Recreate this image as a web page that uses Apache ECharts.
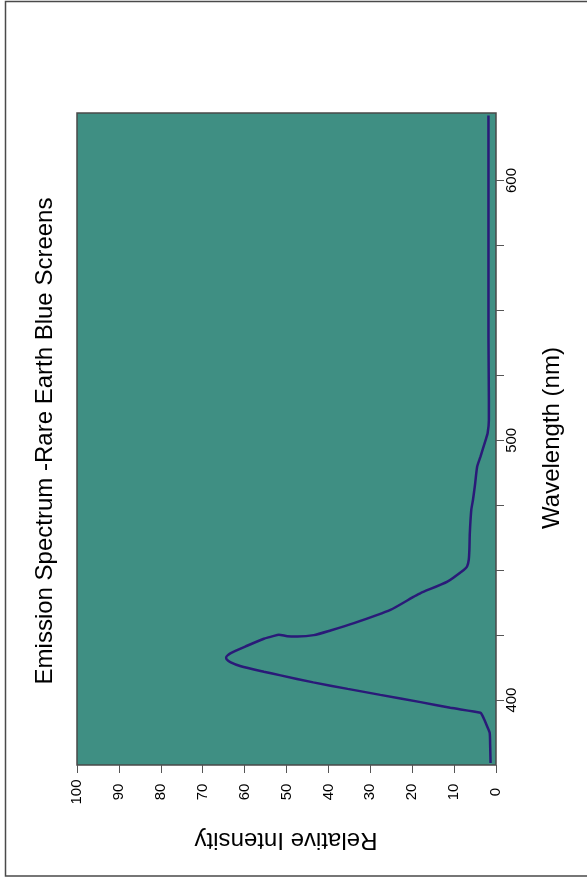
<!DOCTYPE html>
<html>
<head>
<meta charset="utf-8">
<script src="https://cdn.jsdelivr.net/npm/echarts@6/dist/echarts.min.js"></script>
<style>
html,body{margin:0;padding:0;background:#fff;}
#chart{width:587px;height:878px;}
</style>
</head>
<body>
<div id="chart"></div>
<script>
const wavelength = [375.8, 383, 387.3, 389.8, 392.5, 394.2, 395.1, 397.0, 399.2, 402.0, 404.3, 406.8, 409.5, 410.9, 413.0, 414.5, 415.7, 416.5, 418.0, 420.9, 423.6, 424.7, 425.1, 424.6, 424.5, 425.0, 426.8, 429.6, 434.7, 439.8, 441.2, 445.6, 450.1, 451.4, 454.0, 458, 464.2, 473.2, 477, 483, 489.8, 493.7, 500, 502.7, 507.8, 515.5, 540, 570, 600, 625];
const intensity = [1.3, 1.4, 1.5, 2.1, 2.8, 3.3, 3.7, 10.9, 18.0, 27.6, 35.4, 43.6, 51.4, 55.4, 60.9, 63.3, 64.3, 64.4, 63.4, 59.4, 55.4, 53.0, 51.8, 49.8, 47.4, 43.5, 39.5, 33.9, 25.2, 19.6, 18.0, 11.6, 7.7, 6.9, 6.5, 6.35, 6.25, 5.9, 5.5, 5.0, 4.5, 3.7, 2.5, 2.0, 1.7, 1.7, 1.8, 1.8, 1.8, 1.8];
const wavelengthTicks = [400, 425, 450, 475, 500, 525, 550, 575, 600];
const wavelengthLabels = [400, 500, 600];
const titleText = 'Emission Spectrum -Rare Earth Blue Screens';
const xTitle = 'Wavelength (nm)';
const yTitle = 'Relative Intensity';

const FONT = '"Liberation Sans", Arial, Helvetica, sans-serif';
const chart = echarts.init(document.getElementById('chart'));
chart.setOption({
  animation: false,
  backgroundColor: '#ffffff',
  grid: {
    left: 77, top: 113, width: 419, height: 652,
    show: true, backgroundColor: '#3f8f83', borderColor: '#4a4a4a', borderWidth: 1.5
  },
  xAxis: {
    type: 'value', min: 0, max: 100, interval: 10, inverse: true, position: 'bottom',
    axisLine: { show: false },
    axisTick: { show: true, length: 8, lineStyle: { color: '#555', width: 1 } },
    splitLine: { show: false },
    axisLabel: { rotate: 90, margin: 27, align: 'center', verticalAlign: 'middle',
      fontSize: 15, color: '#000', fontFamily: FONT }
  },
  yAxis: {
    type: 'value', min: 375, max: 626, position: 'right',
    axisLine: { show: false },
    axisTick: { show: true, length: 8, customValues: wavelengthTicks, lineStyle: { color: '#555', width: 1 } },
    splitLine: { show: false },
    axisLabel: { customValues: wavelengthLabels, rotate: 90, margin: 8, align: 'center', verticalAlign: 'top',
      fontSize: 15, color: '#000', fontFamily: FONT }
  },
  series: [{
    type: 'line',
    data: wavelength.map((w, i) => [intensity[i], w]),
    showSymbol: false,
    smooth: 0.2,
    lineStyle: { color: '#2a1a78', width: 2.5 },
    itemStyle: { color: '#2a1a78' }
  }],
  graphic: [
    { type: 'rect', shape: { x: 5.5, y: 1.5, width: 600, height: 874.5 },
      style: { fill: 'none', stroke: '#4a4a4a', lineWidth: 1.5 }, z: 100 },
    { type: 'text', x: 45, y: 441, rotation: Math.PI / 2,
      style: { text: titleText, fontSize: 24, fontFamily: FONT, fill: '#000', align: 'center', verticalAlign: 'middle' } },
    { type: 'text', x: 552, y: 438, rotation: Math.PI / 2,
      style: { text: xTitle, fontSize: 24, fontFamily: FONT, fill: '#000', align: 'center', verticalAlign: 'middle' } },
    { type: 'text', x: 286, y: 840, rotation: Math.PI,
      style: { text: yTitle, fontSize: 24, fontFamily: FONT, fill: '#000', align: 'center', verticalAlign: 'middle' } }
  ]
});
</script>
</body>
</html>
